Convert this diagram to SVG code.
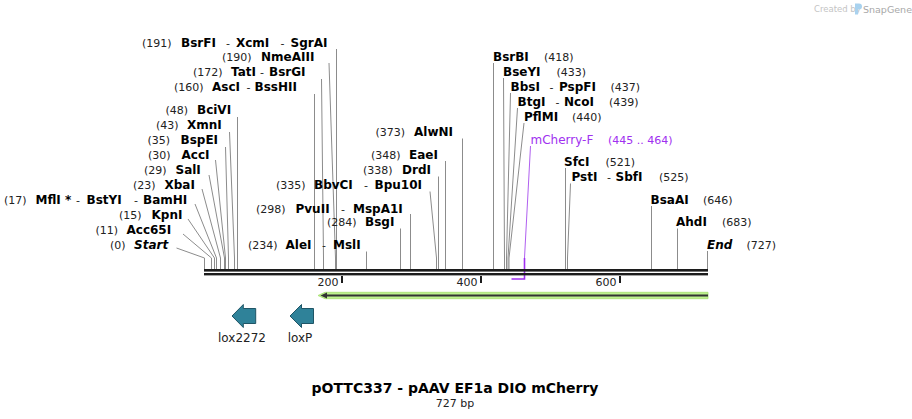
<svg xmlns="http://www.w3.org/2000/svg" width="912" height="419" viewBox="0 0 912 419">
<style>
.n{font-family:"DejaVu Sans",Verdana,sans-serif;font-size:11px;fill:#222}
.e{font-family:"DejaVu Sans",Verdana,sans-serif;font-size:12px;font-weight:bold;fill:#000}
.i{font-family:"DejaVu Sans",Verdana,sans-serif;font-size:12px;font-weight:bold;font-style:italic;fill:#000}
.d{font-family:"DejaVu Sans",Verdana,sans-serif;font-size:11px;fill:#222}
.l{stroke:#8c8c8c;stroke-width:1;fill:none}
.pr{font-family:"DejaVu Sans",Verdana,sans-serif;font-size:12px;fill:#a030f0}
.prn{font-family:"DejaVu Sans",Verdana,sans-serif;font-size:11px;fill:#a030f0}
.f{font-family:"DejaVu Sans",Verdana,sans-serif;font-size:12px;fill:#222}
.lox{fill:#2f8299;stroke:#1f5566;stroke-width:1}
.wm{font-family:"DejaVu Sans",sans-serif}
</style>
<rect width="912" height="419" fill="#fff"/>

<g id="watermark">
<text class="wm" x="814" y="12" font-size="8.5" fill="#c4c4c4">Created by</text>
<path d="M855,3.5 h4 a3,3 0 0 1 0,6 h-1 v5 h-3 z" fill="#a9d2ee"/>
<text class="wm" x="863" y="12.5" font-size="9.5" fill="#a8a8a8">SnapGene</text>
</g>

<g id="connectors">
<path class="l" d="M336.5,49 V269"/>
<path class="l" d="M329,63 L335.5,258 V269"/>
<path class="l" d="M321.5,79 L323.5,258 V269"/>
<path class="l" d="M314.5,94 V269"/>
<path class="l" d="M237.5,117 V269"/>
<path class="l" d="M229.5,132 L234.5,258 V269"/>
<path class="l" d="M225.5,147 L228.5,258 V269"/>
<path class="l" d="M215.5,160 L225.5,258 V269"/>
<path class="l" d="M209,175 L224.5,258 V269"/>
<path class="l" d="M202,189 L220.5,258 V269"/>
<path class="l" d="M195,204 L216.5,258 V269"/>
<path class="l" d="M188,219 L214.5,258 V269"/>
<path class="l" d="M183,234 L211.5,258 V269"/>
<path class="l" d="M176.5,248 L204.5,258 V269"/>
<path class="l" d="M430,191.5 L436.5,258 V269"/>
<path class="l" d="M410.5,214 V269"/>
<path class="l" d="M400.5,228.5 V269"/>
<path class="l" d="M366.5,251.5 V269"/>
<path class="l" d="M438.5,176.5 V269"/>
<path class="l" d="M445.5,161 V269"/>
<path class="l" d="M462.5,138.5 V269"/>
<path class="l" d="M493.5,63 V269"/>
<path class="l" d="M503.5,78 L504.5,258 V269"/>
<path class="l" d="M510.5,93 L506.5,258 V269"/>
<path class="l" d="M517.5,108 L508,258 V269"/>
<path class="l" d="M524,123 L509,258 V269"/>
<path d="M530.5,146 L524.5,258" stroke="#b060f0" stroke-width="1" fill="none"/>
<path d="M524.5,258 V279 H511.5" stroke="#a030f0" stroke-width="1.6" fill="none"/>
<path class="l" d="M565.5,168 V269"/>
<path class="l" d="M570.5,183.5 L567.5,258 V269"/>
<path class="l" d="M651.5,206 V269"/>
<path class="l" d="M677.5,228.5 V269"/>
<path class="l" d="M707.5,251 V269"/>
</g>

<g id="sequence">
<rect x="204" y="269" width="504" height="2.6" fill="#1c1c1c"/>
<rect x="204" y="273" width="504" height="2.4" fill="#1c1c1c"/>
<rect x="341" y="276" width="2" height="7" fill="#1c1c1c"/>
<rect x="480" y="276" width="2" height="7" fill="#1c1c1c"/>
<rect x="619" y="276" width="2" height="7" fill="#1c1c1c"/>
<text class="n" x="338.5" y="285.5" text-anchor="end">200</text>
<text class="n" x="477.5" y="285.5" text-anchor="end">400</text>
<text class="n" x="616.5" y="285.5" text-anchor="end">600</text>
</g>

<g id="feature-green">
<path d="M708,292.3 H325 L318,295.5 L325,298.7 H708 Z" fill="#bdf08e" stroke="#a6e06e" stroke-width="0.8"/>
<path d="M708,295.5 H324" stroke="#333" stroke-width="2" fill="none"/>
<path d="M320.5,295.5 L327,292.6 L327,298.4 Z" fill="#333"/>
</g>

<g id="lox2272">
<path class="lox" d="M232,316 L243.3,304.5 V308.5 H255.7 V323.5 H243.3 V327.5 Z"/>
<text class="f" x="242" y="341.5" text-anchor="middle">lox2272</text>
</g>
<g id="loxP">
<path class="lox" d="M290,316 L301.5,304.5 V308.5 H313.5 V323.5 H301.5 V327.5 Z"/>
<text class="f" x="300" y="341.5" text-anchor="middle">loxP</text>
</g>

<g id="lbl-BsrFI">
<text class="n" x="142" y="46.5">(191)</text>
<text class="e" x="181" y="46.5">BsrFI</text>
<text class="d" x="226" y="46.5">-</text>
<text class="e" x="236" y="46.5">XcmI</text>
<text class="d" x="280.5" y="46.5">-</text>
<text class="e" x="290.5" y="46.5">SgrAI</text>
</g>
<g id="lbl-NmeAIII">
<text class="n" x="222" y="61">(190)</text>
<text class="e" x="261" y="61">NmeAIII</text>
</g>
<g id="lbl-TatI">
<text class="n" x="193" y="76">(172)</text>
<text class="e" x="231" y="76">TatI</text>
<text class="d" x="260" y="76">-</text>
<text class="e" x="269" y="76">BsrGI</text>
</g>
<g id="lbl-AscI">
<text class="n" x="174" y="91">(160)</text>
<text class="e" x="212" y="91">AscI</text>
<text class="d" x="246.5" y="91">-</text>
<text class="e" x="254.5" y="91">BssHII</text>
</g>
<g id="lbl-BciVI">
<text class="n" x="165.5" y="114">(48)</text>
<text class="e" x="197" y="114">BciVI</text>
</g>
<g id="lbl-XmnI">
<text class="n" x="156" y="129">(43)</text>
<text class="e" x="187" y="129">XmnI</text>
</g>
<g id="lbl-BspEI">
<text class="n" x="147.5" y="144">(35)</text>
<text class="e" x="180.5" y="144">BspEI</text>
</g>
<g id="lbl-AccI">
<text class="n" x="148" y="159">(30)</text>
<text class="e" x="181.5" y="159">AccI</text>
</g>
<g id="lbl-SalI">
<text class="n" x="144" y="174">(29)</text>
<text class="e" x="175.5" y="174">SalI</text>
</g>
<g id="lbl-XbaI">
<text class="n" x="133" y="189">(23)</text>
<text class="e" x="164.5" y="189">XbaI</text>
</g>
<g id="lbl-MflI">
<text class="n" x="4" y="204">(17)</text>
<text class="e" x="35.5" y="204">MflI *</text>
<text class="d" x="76" y="204">-</text>
<text class="e" x="86.5" y="204">BstYI</text>
<text class="d" x="134" y="204">-</text>
<text class="e" x="143" y="204">BamHI</text>
</g>
<g id="lbl-KpnI">
<text class="n" x="119" y="219">(15)</text>
<text class="e" x="151.5" y="219">KpnI</text>
</g>
<g id="lbl-Acc65I">
<text class="n" x="95.5" y="234">(11)</text>
<text class="e" x="126.5" y="234">Acc65I</text>
</g>
<g id="lbl-Start">
<text class="n" x="110" y="249">(0)</text>
<text class="i" x="134" y="249">Start</text>
</g>

<g id="lbl-BbvCI">
<text class="n" x="276" y="189">(335)</text>
<text class="e" x="314" y="189">BbvCI</text>
<text class="d" x="364" y="189">-</text>
<text class="e" x="374.5" y="189">Bpu10I</text>
</g>
<g id="lbl-PvuII">
<text class="n" x="256" y="212.5">(298)</text>
<text class="e" x="295.5" y="212.5">PvuII</text>
<text class="d" x="341" y="212.5">-</text>
<text class="e" x="353" y="212.5">MspA1I</text>
</g>
<g id="lbl-BsgI">
<text class="n" x="327" y="226">(284)</text>
<text class="e" x="365" y="226">BsgI</text>
</g>
<g id="lbl-AleI">
<text class="n" x="248" y="249">(234)</text>
<text class="e" x="285.5" y="249">AleI</text>
<text class="d" x="322" y="249">-</text>
<text class="e" x="333" y="249">MslI</text>
</g>
<g id="lbl-EaeI">
<text class="n" x="371" y="159">(348)</text>
<text class="e" x="409" y="159">EaeI</text>
</g>
<g id="lbl-DrdI">
<text class="n" x="363" y="174">(338)</text>
<text class="e" x="402" y="174">DrdI</text>
</g>
<g id="lbl-AlwNI">
<text class="n" x="375.5" y="136">(373)</text>
<text class="e" x="414" y="136">AlwNI</text>
</g>

<g id="lbl-BsrBI">
<text class="e" x="493" y="61">BsrBI</text>
<text class="n" x="544" y="61">(418)</text>
</g>
<g id="lbl-BseYI">
<text class="e" x="503" y="76">BseYI</text>
<text class="n" x="556.5" y="76">(433)</text>
</g>
<g id="lbl-BbsI">
<text class="e" x="510.5" y="91">BbsI</text>
<text class="d" x="549.5" y="91">-</text>
<text class="e" x="559" y="91">PspFI</text>
<text class="n" x="610.5" y="91">(437)</text>
</g>
<g id="lbl-BtgI">
<text class="e" x="517.5" y="106">BtgI</text>
<text class="d" x="555.5" y="106">-</text>
<text class="e" x="564" y="106">NcoI</text>
<text class="n" x="609" y="106">(439)</text>
</g>
<g id="lbl-PflMI">
<text class="e" x="524" y="121">PflMI</text>
<text class="n" x="572" y="121">(440)</text>
</g>
<g id="primer-mCherry-F">
<text class="pr" x="530.5" y="144.3">mCherry-F</text>
<text class="prn" x="608" y="144.3">(445 .. 464)</text>
</g>
<g id="lbl-SfcI">
<text class="e" x="564" y="166">SfcI</text>
<text class="n" x="605.5" y="166">(521)</text>
</g>
<g id="lbl-PstI">
<text class="e" x="571.5" y="181">PstI</text>
<text class="d" x="607" y="181">-</text>
<text class="e" x="615.5" y="181">SbfI</text>
<text class="n" x="659" y="181">(525)</text>
</g>
<g id="lbl-BsaAI">
<text class="e" x="650.5" y="204.3">BsaAI</text>
<text class="n" x="703" y="204.3">(646)</text>
</g>
<g id="lbl-AhdI">
<text class="e" x="676" y="226">AhdI</text>
<text class="n" x="722" y="226">(683)</text>
</g>
<g id="lbl-End">
<text class="i" x="707" y="249">End</text>
<text class="n" x="746.5" y="249">(727)</text>
</g>

<g id="title">
<text x="455" y="393" text-anchor="middle" font-family="DejaVu Sans, Verdana, sans-serif" font-size="14" font-weight="bold" fill="#000">pOTTC337 - pAAV EF1a DIO mCherry</text>
<text x="455" y="406.5" text-anchor="middle" font-family="DejaVu Sans, Verdana, sans-serif" font-size="11" fill="#222">727 bp</text>
</g>
</svg>
